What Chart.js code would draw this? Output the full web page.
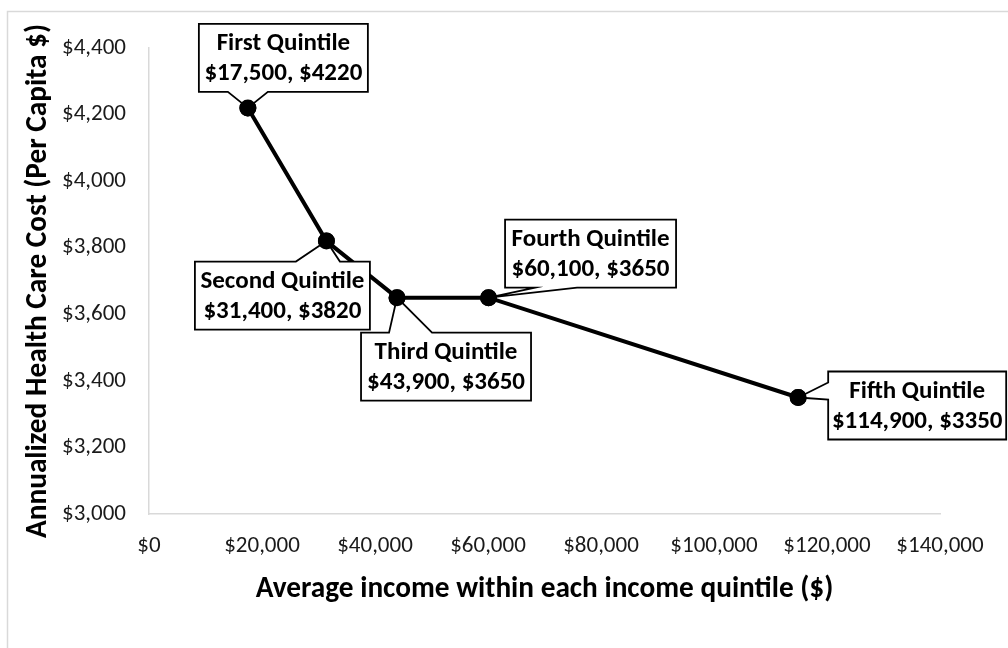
<!DOCTYPE html>
<html><head><meta charset="utf-8">
<script src="https://cdn.jsdelivr.net/npm/chart.js@4.4.0/dist/chart.umd.min.js"></script>
<style>html,body{margin:0;padding:0;background:#fff;}#wrap{width:1008px;height:648px;position:relative;}</style>
</head><body><div id="wrap"><canvas id="c"></canvas></div>
<script>
// ---- data ----
const quintiles = ["First Quintile", "Second Quintile", "Third Quintile", "Fourth Quintile", "Fifth Quintile"];
const incomes = [17500, 31400, 43900, 60100, 114900];
const costs = [4220, 3820, 3650, 3650, 3350];
const xTicks = [0, 20000, 40000, 60000, 80000, 100000, 120000, 140000];
const yTicks = [3000, 3200, 3400, 3600, 3800, 4000, 4200, 4400];
const xTitle = "Average income within each income quintile ($)";
const yTitle = "Annualized Health Care Cost (Per Capita $)";

// ---- callout layout (pixel offsets from the point) ----
const calloutLayout = [
  {dx: 35.5, dy: -50, w: 169, h: 68, side: 'bottom', b1: -55.5, b2: -15.5},
  {dx: -44, dy: 54.5, w: 175, h: 68, side: 'top', b1: 13.5, b2: 57.5},
  {dx: 49, dy: 69, w: 170, h: 68, side: 'top', b1: -57, b2: -14},
  {dx: 102, dy: -44, w: 171, h: 68, side: 'bottom', b1: -55.5, b2: -13.5},
  {dx: 119, dy: 8, w: 178, h: 68, side: 'left', b1: -23, b2: -6}
];

const FONT = "Calibri, Carlito, Lato, sans-serif";
const fmt = v => '$' + Number(v).toLocaleString('en-US');

const framePlugin = {
  id: 'frame',
  beforeDraw(chart) {
    const ctx = chart.ctx;
    ctx.save();
    ctx.fillStyle = '#fff';
    ctx.fillRect(0, 0, chart.width, chart.height);
    ctx.strokeStyle = '#d9d9d9';
    ctx.lineWidth = 1.5;
    ctx.strokeRect(7.5, 11.5, 1200, 900);
    ctx.restore();
  }
};

const calloutPlugin = {
  id: 'callouts',
  afterDatasetsDraw(chart) {
    const ctx = chart.ctx;
    const meta = chart.getDatasetMeta(0);
    ctx.save();
    meta.data.forEach((pt, i) => {
      const L = calloutLayout[i];
      const px = pt.x, py = pt.y;
      const cx = px + L.dx, cy = py + L.dy;
      const l = cx - L.w / 2, r = cx + L.w / 2, t = cy - L.h / 2, b = cy + L.h / 2;
      ctx.beginPath();
      if (L.side === 'bottom') {
        ctx.moveTo(l, t); ctx.lineTo(r, t); ctx.lineTo(r, b);
        ctx.lineTo(cx + L.b2, b); ctx.lineTo(px, py); ctx.lineTo(cx + L.b1, b);
        ctx.lineTo(l, b);
      } else if (L.side === 'top') {
        ctx.moveTo(l, t); ctx.lineTo(cx + L.b1, t); ctx.lineTo(px, py); ctx.lineTo(cx + L.b2, t);
        ctx.lineTo(r, t); ctx.lineTo(r, b); ctx.lineTo(l, b);
      } else {
        ctx.moveTo(l, t); ctx.lineTo(r, t); ctx.lineTo(r, b); ctx.lineTo(l, b);
        ctx.lineTo(l, cy + L.b2); ctx.lineTo(px, py); ctx.lineTo(l, cy + L.b1);
      }
      ctx.closePath();
      ctx.fillStyle = '#fff';
      ctx.fill();
      ctx.strokeStyle = '#000';
      ctx.lineWidth = 1.8;
      ctx.lineJoin = 'miter';
      ctx.stroke();
      ctx.fillStyle = '#000';
      ctx.font = "bold 25px " + FONT;
      ctx.textAlign = 'center';
      ctx.textBaseline = 'middle';
      ctx.fillText(quintiles[i], cx, cy - 14);
      ctx.fillText(fmt(incomes[i]) + ', $' + costs[i], cx, cy + 16);
    });
    ctx.restore();
    // points on top of the callout pointers
    meta.data.forEach(pt => pt.draw(ctx, chart.chartArea));
  }
};

new Chart(document.getElementById('c'), {
  type: 'scatter',
  data: {
    datasets: [{
      data: incomes.map((x, i) => ({x: x, y: costs[i]})),
      showLine: true,
      borderColor: '#000',
      borderWidth: 4,
      backgroundColor: '#000',
      pointBackgroundColor: '#000',
      pointBorderColor: '#000',
      pointRadius: 6.5,
      pointHoverRadius: 6.5,
      tension: 0
    }]
  },
  options: {
    responsive: true,
    maintainAspectRatio: false,
    animation: false,
    events: [],
    layout: {padding: {top: 48, right: 68, left: 0, bottom: 0}},
    plugins: {legend: {display: false}, tooltip: {enabled: false}},
    scales: {
      x: {
        type: 'linear',
        min: xTicks[0], max: xTicks[xTicks.length - 1],
        afterBuildTicks: s => { s.ticks = xTicks.map(v => ({value: v})); },
        afterFit: s => { s.height = 134; },
        grid: {display: false, drawTicks: false},
        border: {display: true, color: '#d9d9d9', width: 1.5},
        ticks: {padding: 18, color: '#1a1a1a', font: {family: FONT, size: 23}, callback: v => fmt(v), maxRotation: 0, autoSkip: false},
        title: {display: true, text: xTitle, color: '#000', font: {family: FONT, size: 29.3, weight: 'bold'}, padding: {top: 0, bottom: 41}}
      },
      y: {
        type: 'linear',
        min: yTicks[0], max: yTicks[yTicks.length - 1],
        afterBuildTicks: s => { s.ticks = yTicks.map(v => ({value: v})); },
        afterFit: s => { s.width = 149; },
        grid: {display: false, drawTicks: false},
        border: {display: true, color: '#d9d9d9', width: 1.5},
        ticks: {padding: 23, color: '#1a1a1a', font: {family: FONT, size: 23}, callback: v => fmt(v), autoSkip: false},
        title: {display: true, text: yTitle, color: '#000', font: {family: FONT, size: 29.3, weight: 'bold'}, padding: {top: 21, bottom: 0}}
      }
    }
  },
  plugins: [framePlugin, calloutPlugin]
});
</script></body></html>
